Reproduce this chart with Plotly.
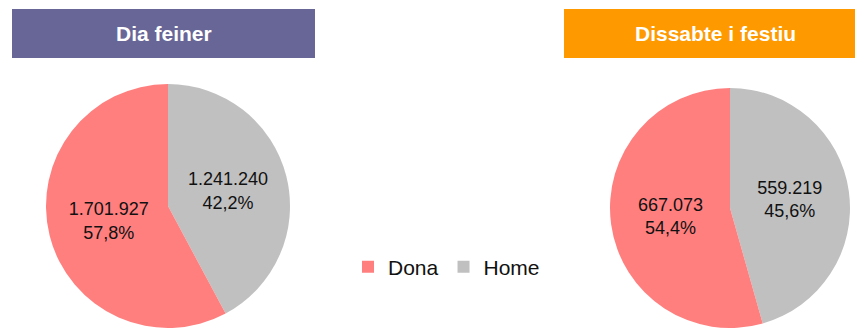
import plotly.graph_objects as go

# Population by sex, working day vs. Saturday/holiday
labels = ["Home", "Dona"]
weekday_values = [1241240, 1701927]
holiday_values = [559219, 667073]
titles = ["Dia feiner", "Dissabte i festiu"]
title_colors = ["#686597", "#FF9900"]
slice_colors = ["#C0C0C0", "#FF7F7F"]

W, H = 855, 328
FONT = "Arial, Liberation Sans, sans-serif"


def pie_domain(cx, cy, r):
    """Pixel centre/radius -> paper domain (y measured from top)."""
    return dict(
        x=[(cx - r) / W, (cx + r) / W],
        y=[max(0.0, (H - cy - r) / H), min(1.0, (H - cy + r) / H)],
    )


fig = go.Figure()

for vals, dom, show in [
    (weekday_values, pie_domain(168, 206, 122), True),
    (holiday_values, pie_domain(730, 208, 120), False),
]:
    fig.add_trace(go.Pie(
        labels=labels,
        values=vals,
        domain=dom,
        sort=False,
        direction="counterclockwise",
        rotation=0,
        marker=dict(colors=slice_colors, line=dict(width=0)),
        texttemplate="%{value:,}<br>%{percent:.1%}",
        textposition="inside",
        insidetextorientation="horizontal",
        textfont=dict(family=FONT, size=18, color="#111111"),
        showlegend=show,
        hoverinfo="skip",
    ))

# Header boxes with titles
boxes = [(12, 315), (564, 866)]
for (x0, x1), title, col in zip(boxes, titles, title_colors):
    fig.add_shape(
        type="rect", xref="paper", yref="paper",
        x0=x0 / W, x1=x1 / W, y0=1 - 58 / H, y1=1 - 9 / H,
        fillcolor=col, line=dict(width=0), layer="below",
    )
    fig.add_annotation(
        x=(x0 + x1) / 2 / W, y=1 - 34 / H, xref="paper", yref="paper",
        text=f"<b>{title}</b>", showarrow=False,
        font=dict(family=FONT, size=21, color="white"),
        xanchor="center", yanchor="middle",
    )

fig.update_layout(
    width=W, height=H,
    margin=dict(l=0, r=0, t=0, b=0),
    paper_bgcolor="white",
    separators=",.",
    legend=dict(
        orientation="h", x=348 / W, xanchor="left",
        y=1 - 267 / H, yanchor="middle",
        bgcolor="rgba(0,0,0,0)",
        font=dict(family=FONT, size=21, color="#111111"),
        itemwidth=30, traceorder="reversed",
    ),
)

fig.write_html("out.html")
